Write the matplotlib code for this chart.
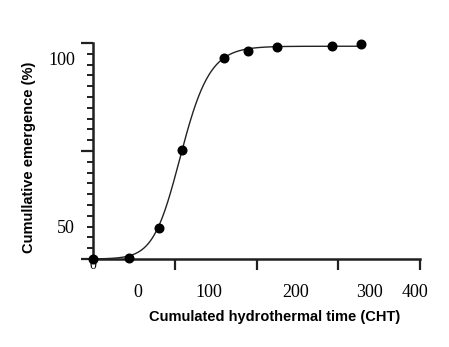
import numpy as np
import matplotlib
matplotlib.use("Agg")
import matplotlib.pyplot as plt
from matplotlib.ticker import MultipleLocator

# Observed cumulative emergence vs cumulated hydrothermal time
cht = [0, 44, 81, 109, 160, 190, 225, 292, 328]
emergence = [0, 0.3, 14.4, 50.5, 93.2, 96.3, 98.1, 98.6, 99.5]

# Fitted Richards growth model parameters
fit_max = 98.5
fit_xm = 106.0
fit_scale = 19.0
fit_shape = 0.7

# Tick labels and where they are printed
x_tick_labels = ["0", "100", "200", "300", "400"]
x_label_pos = [54.7, 141.9, 248.0, 338.8, 393.9]
y_tick_labels = ["50", "100"]
y_label_pos = [13.9, 91.8]

fig = plt.figure(figsize=(4.49, 3.47), dpi=100)
ax = fig.add_axes([93 / 449, 88 / 347, 327 / 449, 216 / 347])

xs = np.linspace(cht[0], cht[-1], 400)
fit = fit_max * (1 + fit_shape * np.exp(-(xs - fit_xm) / fit_scale)) ** (-1 / fit_shape)
ax.plot(xs, fit, color="#222222", lw=1.0, zorder=3, clip_on=False)
ax.plot(cht, emergence, "o", color="black", ms=6.2, zorder=5, clip_on=False)

ax.set_xlim(0, 400)
ax.set_ylim(0, 100)

for side in ("top", "right"):
    ax.spines[side].set_visible(False)
for side in ("left", "bottom"):
    ax.spines[side].set_linewidth(1.8)
    ax.spines[side].set_color("#202020")

ax.set_xticks([100, 200, 300, 400])
ax.set_xticklabels([])
ax.set_yticks([0, 50, 100])
ax.set_yticklabels([])
ax.yaxis.set_minor_locator(MultipleLocator(5))
ax.tick_params(axis="x", direction="out", length=8, width=1.6, color="#202020")
ax.tick_params(axis="y", which="major", direction="out", length=9, width=1.6, color="#202020")
ax.tick_params(axis="y", which="minor", direction="out", length=4.5, width=1.4, color="#202020")

serif = "Liberation Serif"
xt = ax.get_xaxis_transform()
for lab, pos in zip(x_tick_labels, x_label_pos):
    ax.text(pos, -0.153, lab, transform=xt, ha="center", va="center",
            fontsize=13, family=serif)
yt = ax.get_yaxis_transform()
for lab, pos in zip(y_tick_labels, y_label_pos):
    ax.text(-0.055, pos, lab, transform=yt, ha="right", va="center",
            fontsize=13, family=serif)
ax.text(0, -3.2, "0", ha="center", va="center", fontsize=10, family=serif,
        zorder=2, clip_on=False)

ax.text(0.555, -0.27, "Cumulated hydrothermal time (CHT)", transform=ax.transAxes,
        ha="center", va="center", fontsize=10.5, fontweight="bold",
        family="Liberation Sans")
fig.text(29 / 449, 1 - 157 / 347, "Cumullative emergence (%)", rotation=90,
         ha="center", va="center", fontsize=10.5, fontweight="bold",
         family="Liberation Sans")

fig.savefig("out.png", dpi=100)
